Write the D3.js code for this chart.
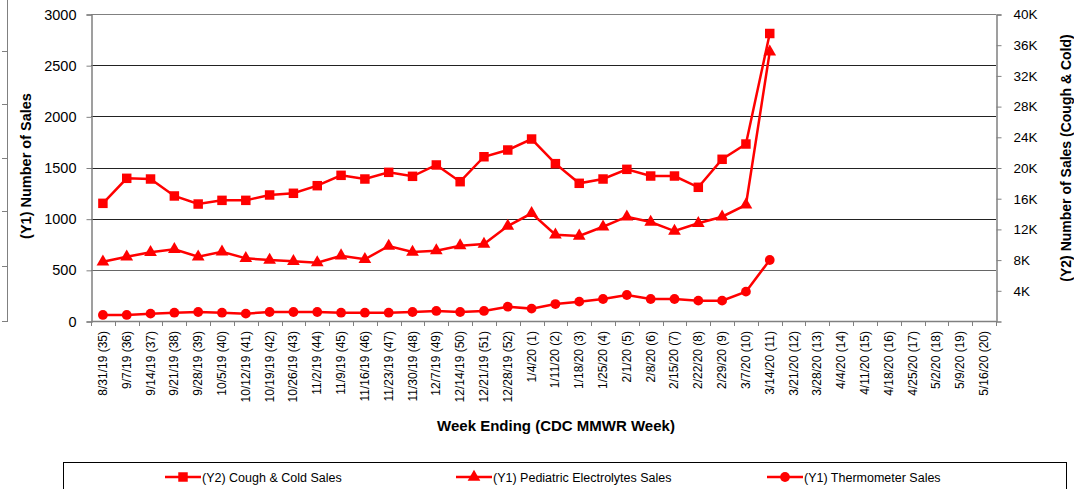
<!DOCTYPE html>
<html lang="en">
<head>
<meta charset="utf-8">
<title>Sales by week</title>
<script src="https://d3js.org/d3.v7.min.js"></script>
<style>
  body { margin: 0; background: #fff; }
  svg { display: block; font-family: "Liberation Sans", Arial, sans-serif; }
</style>
</head>
<body>
<div id="viz"></div>
<script>
// categories: week ending (CDC MMWR week)
const weeks = ["8/31/19 (35)", "9/7/19 (36)", "9/14/19 (37)", "9/21/19 (38)", "9/28/19 (39)",
  "10/5/19 (40)", "10/12/19 (41)", "10/19/19 (42)", "10/26/19 (43)", "11/2/19 (44)",
  "11/9/19 (45)", "11/16/19 (46)", "11/23/19 (47)", "11/30/19 (48)", "12/7/19 (49)",
  "12/14/19 (50)", "12/21/19 (51)", "12/28/19 (52)", "1/4/20 (1)", "1/11/20 (2)",
  "1/18/20 (3)", "1/25/20 (4)", "2/1/20 (5)", "2/8/20 (6)", "2/15/20 (7)", "2/22/20 (8)",
  "2/29/20 (9)", "3/7/20 (10)", "3/14/20 (11)", "3/21/20 (12)", "3/28/20 (13)", "4/4/20 (14)",
  "4/11/20 (15)", "4/18/20 (16)", "4/25/20 (17)", "5/2/20 (18)", "5/9/20 (19)", "5/16/20 (20)"];

// Y2 series
const coughCold = [15330, 18590, 18500, 16290, 15240, 15720, 15720, 16420, 16640, 17630,
  18980, 18500, 19370, 18850, 20330, 18150, 21400, 22280, 23710, 20500, 17940, 18500,
  19760, 18890, 18890, 17420, 21070, 23060, 37460];
// Y1 series
const electrolytes = [579, 628, 671, 700, 628, 677, 612, 596, 583, 570, 638, 603, 733, 674,
  687, 736, 752, 928, 1052, 843, 831, 921, 1019, 967, 879, 955, 1019, 1134, 2630];
const thermometer = [59, 59, 72, 81, 88, 81, 72, 88, 88, 88, 81, 81, 81, 88, 98, 88, 98,
  140, 121, 166, 189, 215, 254, 215, 215, 199, 199, 287, 596];

const y1Ticks = [0, 500, 1000, 1500, 2000, 2500, 3000];
const y2Ticks = [4000, 8000, 12000, 16000, 20000, 24000, 28000, 32000, 36000, 40000];

const seriesNames = ["(Y2) Cough & Cold Sales", "(Y1) Pediatric Electrolytes Sales", "(Y1) Thermometer Sales"];

const width = 1074, height = 489;
const plot = {left: 91, right: 996, top: 14, bottom: 321};
const red = "#ff0000";

const svg = d3.select("#viz").append("svg")
    .attr("width", width)
    .attr("height", height);

// leftover edge of a neighbouring chart, cut off at the left border
const edge = svg.append("g").attr("stroke", "#808080");
edge.append("line").attr("x1", 7.5).attr("x2", 7.5).attr("y1", 0).attr("y2", 322);
[51, 104, 158, 211, 266, 321].forEach(y => {
  edge.append("line").attr("x1", 2).attr("x2", 7.5).attr("y1", y + 0.5).attr("y2", y + 0.5);
});

const xBand = d3.scaleBand()
    .domain(weeks)
    .range([plot.left, plot.right])
    .padding(0);
const xPos = d => xBand(d) + xBand.bandwidth() / 2;

const y1 = d3.scaleLinear().domain([0, 3000]).range([plot.bottom, plot.top]);
const y2 = d3.scaleLinear().domain([0, 40000]).range([plot.bottom, plot.top]);

// gridlines
svg.append("g")
  .selectAll("line")
  .data(y1Ticks.filter(d => d > 0))
  .join("line")
    .attr("x1", plot.left).attr("x2", plot.right)
    .attr("y1", d => Math.round(y1(d)) + 0.5)
    .attr("y2", d => Math.round(y1(d)) + 0.5)
    .attr("stroke", d => d === 3000 ? "#808080" : (d === 500 ? "#666" : "#222"))
    .attr("stroke-width", 1);

// left axis
const yAxisL = d3.axisLeft(y1).tickValues(y1Ticks).tickSize(5).tickPadding(10)
    .tickFormat(d3.format("d"));
const gl = svg.append("g")
    .attr("transform", `translate(${plot.left + 0.5},0.5)`)
    .call(yAxisL);
gl.select(".domain").attr("stroke", "#808080").attr("stroke-width", 1.5);
gl.selectAll(".tick line").attr("stroke", "#808080");
gl.selectAll(".tick text").attr("font-size", 14.5).attr("fill", "#000")
    .attr("font-family", "Liberation Sans, Arial, sans-serif");

// right axis
const yAxisR = d3.axisRight(y2).tickValues(y2Ticks).tickSize(5).tickPadding(12)
    .tickFormat(d => (d / 1000) + "K");
const gr = svg.append("g")
    .attr("transform", `translate(${plot.right + 0.5},0.5)`)
    .call(yAxisR);
gr.select(".domain").attr("stroke", "#808080").attr("stroke-width", 1.5);
gr.selectAll(".tick line").attr("stroke", "#808080");
gr.selectAll(".tick text").attr("font-size", 13.5).attr("fill", "#000")
    .attr("font-family", "Liberation Sans, Arial, sans-serif");

// bottom axis: ticks at category borders
const gx = svg.append("g");
gx.append("line")
    .attr("x1", plot.left).attr("x2", plot.right)
    .attr("y1", plot.bottom + 0.5).attr("y2", plot.bottom + 0.5)
    .attr("stroke", "#808080").attr("stroke-width", 1.5);
gx.selectAll("line.tk")
  .data(weeks.map(d => xBand(d)).concat([plot.right]))
  .join("line")
    .attr("class", "tk")
    .attr("x1", d => Math.round(d) + 0.5).attr("x2", d => Math.round(d) + 0.5)
    .attr("y1", plot.bottom).attr("y2", plot.bottom + 5)
    .attr("stroke", "#808080");
gx.selectAll("text")
  .data(weeks)
  .join("text")
    .attr("transform", d => `translate(${xPos(d) + 4},${plot.bottom + 10}) rotate(-90)`)
    .attr("text-anchor", "end")
    .attr("font-size", 12)
    .text(d => d);

// axis titles
svg.append("text")
    .attr("transform", `translate(31,166) rotate(-90)`)
    .attr("text-anchor", "middle")
    .attr("font-size", 14.5).attr("font-weight", "bold")
    .text("(Y1) Number of Sales");
svg.append("text")
    .attr("transform", `translate(1071,158) rotate(-90)`)
    .attr("text-anchor", "middle")
    .attr("font-size", 14).attr("font-weight", "bold")
    .text("(Y2) Number of Sales (Cough & Cold)");
svg.append("text")
    .attr("x", 556).attr("y", 431)
    .attr("text-anchor", "middle")
    .attr("font-size", 15).attr("font-weight", "bold")
    .text("Week Ending (CDC MMWR Week)");

// series
const series = [
  {name: seriesNames[0], values: coughCold, y: y2, symbol: d3.symbolSquare, size: 90},
  {name: seriesNames[1], values: electrolytes, y: y1, symbol: d3.symbolTriangle, size: 70},
  {name: seriesNames[2], values: thermometer, y: y1, symbol: d3.symbolCircle, size: 75}
];

series.forEach(s => {
  const pts = s.values.map((v, i) => ({x: xPos(weeks[i]), y: s.y(v)}));
  svg.append("path")
      .attr("d", d3.line().x(d => d.x).y(d => d.y)(pts))
      .attr("fill", "none")
      .attr("stroke", red)
      .attr("stroke-width", 2.5);
  svg.append("g")
    .selectAll("path")
    .data(pts)
    .join("path")
      .attr("transform", d => `translate(${d.x},${d.y})`)
      .attr("d", d3.symbol(s.symbol, s.size))
      .attr("fill", red);
});

// legend
const lg = svg.append("g");
lg.append("rect")
    .attr("x", 63.5).attr("y", 462.5)
    .attr("width", 1003).attr("height", 32)
    .attr("fill", "#fff").attr("stroke", "#000");
const legendX = [165, 456, 767];
series.forEach((s, i) => {
  const g = lg.append("g").attr("transform", `translate(${legendX[i]},477)`);
  g.append("line").attr("x1", 0).attr("x2", 36).attr("stroke", red).attr("stroke-width", 2.5);
  g.append("path").attr("transform", "translate(18,0)")
      .attr("d", d3.symbol(s.symbol, s.size)).attr("fill", red);
  g.append("text").attr("x", 37).attr("y", 4.5)
      .attr("font-size", 12.5)
      .text(s.name);
});
</script>
</body>
</html>
